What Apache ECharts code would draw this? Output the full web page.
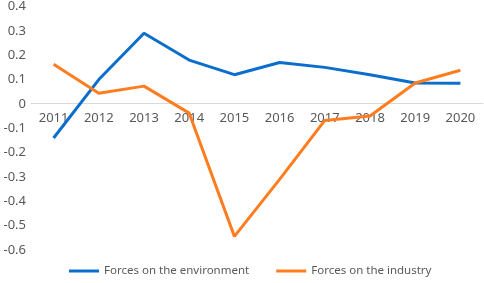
<!DOCTYPE html>
<html>
<head>
<meta charset="utf-8">
<script src="https://cdn.jsdelivr.net/npm/echarts@6/dist/echarts.min.js"></script>
<style>
  html, body { margin: 0; padding: 0; background: #fff; }
  #chart { width: 484px; height: 283px; }
</style>
</head>
<body>
<div id="chart"></div>
<script>
var years = ['2011', '2012', '2013', '2014', '2015', '2016', '2017', '2018', '2019', '2020']
var environment = [-0.14, 0.10, 0.29, 0.18, 0.12, 0.17, 0.15, 0.12, 0.086, 0.085]
var industry = [0.163, 0.044, 0.073, -0.038, -0.544, -0.31, -0.068, -0.05, 0.086, 0.138]

var mychart = echarts.init(document.getElementById('chart'))
mychart.setOption({
  animation: false,
  backgroundColor: '#fff',
  textStyle: { fontFamily: 'Noto Sans' },
  grid: { left: 31, right: 1, top: 5, bottom: 33 },
  legend: {
    bottom: 1,
    left: 64,
    itemWidth: 30,
    itemHeight: 3,
    itemGap: 27,
    icon: 'rect',
    textStyle: { color: '#595959', fontSize: 11.5 },
    data: ['Forces on the environment', 'Forces on the industry']
  },
  xAxis: {
    type: 'category',
    data: years,
    offset: -147,
    axisLine: { onZero: false, lineStyle: { color: '#d9d9d9', width: 1 } },
    axisTick: { show: false },
    axisLabel: { color: '#595959', fontSize: 13, margin: 9 }
  },
  yAxis: {
    type: 'value',
    min: -0.6,
    max: 0.4,
    interval: 0.1,
    splitLine: { show: false },
    axisLine: { show: false },
    axisTick: { show: false },
    axisLabel: {
      color: '#595959',
      fontSize: 13,
      margin: 5,
      formatter: function (v) { return Math.round(v * 10) / 10 + '' }
    }
  },
  series: [{
    name: 'Forces on the environment',
    type: 'line',
    data: environment,
    symbol: 'none',
    lineStyle: { color: '#0b6dcc', width: 3 },
    itemStyle: { color: '#0b6dcc' }
  }, {
    name: 'Forces on the industry',
    type: 'line',
    data: industry,
    symbol: 'none',
    lineStyle: { color: '#ff7d1f', width: 3 },
    itemStyle: { color: '#ff7d1f' }
  }]
})
</script>
</body>
</html>
